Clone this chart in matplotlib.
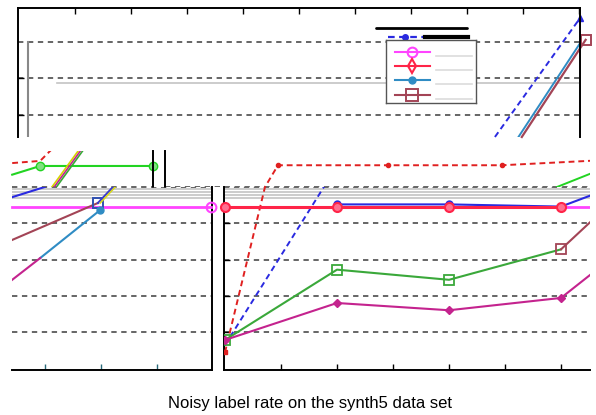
import matplotlib
matplotlib.use('Agg')
import matplotlib.pyplot as plt

W, H = 596, 415
fig = plt.figure(figsize=(W / 100, H / 100), dpi=100)

# ---------------- data (noise rate, accuracy) ----------------
grid_vals = [0.6, 0.65, 0.7, 0.75, 0.8, 0.85, 0.9, 0.95, 1.0]

# main (bottom-right) panel
noise = [0.0, 0.1, 0.2, 0.3]
acc_red = [0.772, 0.772, 0.772, 0.772]
acc_green = [0.589, 0.686, 0.672, 0.714]
acc_purple = [0.589, 0.640, 0.630, 0.647]
purple_ext_x = [0.3, 0.35]
purple_ext_y = [0.647, 0.708]
brown_ext_x = [0.3, 0.35]
brown_ext_y = [0.714, 0.786]
blue_x = [0.1, 0.2, 0.3, 0.35]
blue_y = [0.776, 0.776, 0.773, 0.802]
magenta_ext_x = [0.3, 0.35]
magenta_ext_y = [0.772, 0.772]
red_dash_x = [0.0, 0.0357, 0.0473, 0.1455, 0.2473, 0.35]
red_dash_y = [0.572, 0.800, 0.830, 0.830, 0.830, 0.838]
blue_dash_x = [0.0, 0.1]
blue_dash_y = [0.582, 0.829]
green_mid_x = [0.2964, 0.35]
green_mid_y = [0.800, 0.833]

# middle-left strip
gl_x = [-0.19, -0.165, -0.0643]
gl_y = [0.817, 0.829, 0.829]
rl_x = [-0.19, -0.165, -0.156, -0.145]
rl_y = [0.833, 0.836, 0.850, 0.865]
diag_x = [-0.1545, -0.131]
diag_y = [0.800, 0.850]

# bottom-left panel
mag_x = [-0.19, -0.1125, -0.0125]
mag_y = [0.772, 0.772, 0.772]
brn_x = [-0.19, -0.1134]
brn_y = [0.727, 0.778]
byl_x = [-0.1134, -0.100]
byl_y = [0.778, 0.800]
teal_x = [-0.165, -0.1116]
teal_y = [0.702, 0.768]
pink_x = [-0.19, -0.165]
pink_y = [0.672, 0.702]
bl_x = [-0.19, -0.161]
bl_y = [0.786, 0.800]
left_ticks = [-0.1607, -0.1107, -0.0607]
main_ticks = [0.05, 0.10, 0.15, 0.20, 0.25, 0.30]

# top panel
top_ticks = [-0.1339 + 0.05 * k for k in range(10)]
tb_x = [0.241, 0.317]
tb_y = [0.869, 1.033]
tc_x = [0.262, 0.319]
tc_y = [0.869, 1.003]
tr_x = [0.265, 0.322]
tr_y = [0.869, 1.003]

title = "Noisy label rate on the synth5 data set"

# colours
C_RED = '#ff2448'
C_GREEN = '#3aa83a'
C_LGREEN = '#22d422'
C_PURPLE = '#c4238e'
C_BROWN = '#a34456'
C_BLUE = '#2a2ae0'
C_TEAL = '#2f8cc4'
C_MAG = '#ff44ff'
C_RDASH = '#e02020'
GRID = '#3c3c3c'


def px2x(px):
    return (px - 225) / 1120


def py2v(py):
    return 0.6 + (332 - py) / 725


def frag(l, t, r, b, spines=()):
    ax = fig.add_axes([l / W, 1 - b / H, (r - l) / W, (b - t) / H])
    ax.set_xlim(px2x(l), px2x(r))
    ax.set_ylim(py2v(b), py2v(t))
    ax.patch.set_alpha(0)
    for s in ax.spines:
        ax.spines[s].set_visible(s in spines)
        ax.spines[s].set_linewidth(1.4)
    ax.set_xticks([])
    ax.set_yticks([])
    return ax


def dgrid(ax, vals):
    lo, hi = ax.get_ylim()
    for v in vals:
        if lo - 1e-6 <= v <= hi + 1e-6:
            ax.axhline(v, color=GRID, lw=1.1, ls=(0, (3.5, 3)), zorder=1)


def streaks(ax, ys, x0=None, x1=None):
    lo, hi = ax.get_xlim()
    for y in ys:
        ax.plot([lo if x0 is None else x0, hi if x1 is None else x1], [y, y],
                color='#c4c4c4', lw=1.2, zorder=0.5)


# ---------------- top panel ----------------
axA = frag(18, 8, 580, 137, spines=('top', 'right', 'left'))
dgrid(axA, grid_vals)
axA.set_xticks(top_ticks)
axA.set_yticks([0.9, 0.95])
axA.tick_params(axis='x', top=True, bottom=False, direction='in', length=4,
                labeltop=False, labelbottom=False, width=1)
axA.tick_params(axis='y', direction='in', length=4, labelleft=False, width=1)
streaks(axA, [py2v(83)], px2x(57), px2x(580))
axA.axvline(px2x(28), ymin=0, ymax=(137 - 42) / 129, color='#888888', lw=1.5)
axA.plot(tb_x, tb_y, color=C_BLUE, lw=1.4, ls=(0, (3, 2)), marker='^',
         markevery=[1], ms=5, clip_on=False)
axA.plot(tc_x, tc_y, color=C_TEAL, lw=1.4)
axA.plot(tr_x, tr_y, color=C_BROWN, lw=1.6, marker='s', markevery=[1],
         ms=7, mfc='none', mew=1.4, clip_on=False)

# legend-like decorations
axA.plot([px2x(376), px2x(467)], [py2v(28), py2v(28)], color='black', lw=2,
         solid_capstyle='round')
axA.plot([px2x(388), px2x(425)], [py2v(37), py2v(37)], color=C_BLUE, lw=1.6,
         ls=(0, (3, 2)))
axA.plot([px2x(405)], [py2v(37)], color=C_BLUE, marker='o', ms=4)
axA.plot([px2x(425), px2x(468)], [py2v(37), py2v(37)], color='black', lw=3)

axL = fig.add_axes([386 / W, 1 - 103 / H, 90 / W, 63 / H])
axL.set_xlim(0, 1)
axL.set_ylim(0, 1)
axL.set_xticks([])
axL.set_yticks([])
for s in axL.spines.values():
    s.set_color('#555555')
    s.set_linewidth(1)
leg_y = [0.81, 0.587, 0.365, 0.127]
leg_style = [
    dict(color=C_MAG, marker='o', mfc='none', ms=7, mew=1.5),
    dict(color=C_RED, marker='d', mfc='none', ms=7, mew=1.5),
    dict(color=C_TEAL, marker='o', ms=5),
    dict(color=C_BROWN, marker='s', mfc='none', ms=8, mew=1.4),
]
for yy, st in zip(leg_y, leg_style):
    axL.plot([0.1, 0.49], [yy, yy], lw=1.5, markevery=[], **st)
    axL.plot([0.29], [yy], lw=0, **st)
    axL.plot([0.55, 0.95], [yy - 0.06, yy - 0.06], color='#dcdcdc', lw=1.2)

# ---------------- middle strips ----------------
axB1 = frag(12, 151, 153, 187, spines=('right',))
dgrid(axB1, grid_vals)
axB1.plot(gl_x, gl_y, color=C_LGREEN, lw=1.5, marker='o', markevery=[1, 2],
          ms=6, mfc='#80e080', clip_on=False)
axB1.plot(rl_x, rl_y, color=C_RDASH, lw=1.4, ls=(0, (3, 2)))
axB1.plot(diag_x, diag_y, color='#d4d400', lw=1.2)
axB1.plot([x + 0.002 for x in diag_x], diag_y, color=C_PURPLE, lw=1.2)
axB1.plot([x + 0.004 for x in diag_x], diag_y, color=C_GREEN, lw=1.2)

axB2 = frag(165, 151, 590, 187, spines=('left',))
dgrid(axB2, grid_vals)
axB2.plot(red_dash_x, red_dash_y, color=C_RDASH, lw=1.4, ls=(0, (3, 2)),
          marker='o', ms=3, markevery=[2, 3, 4])
axB2.plot(green_mid_x, green_mid_y, color=C_LGREEN, lw=1.4)

# ---------------- bottom-left panel ----------------
axC = frag(12, 187, 212, 370, spines=('right', 'bottom'))
dgrid(axC, grid_vals)
streaks(axC, [py2v(189), py2v(192), py2v(195), py2v(198)])
axC.set_xticks(left_ticks)
axC.tick_params(axis='x', direction='in', length=4, labelbottom=False,
                width=1, color='#2a6a7a')
axC.plot(mag_x, mag_y, color=C_MAG, lw=2, marker='o', markevery=[2], ms=7,
         mfc='none', mew=1.5, clip_on=False, zorder=3)
axC.plot(brn_x, brn_y, color=C_BROWN, lw=1.5, marker='s', markevery=[1],
         ms=7, mfc='none', mec='#3050b0', mew=1.4, zorder=3)
axC.plot(byl_x, byl_y, color='#3a3ad0', lw=1.5, zorder=3)
axC.plot([x + 0.002 for x in byl_x], byl_y, color='#d8d820', lw=1.2, zorder=3)
axC.plot(teal_x, teal_y, color=C_TEAL, lw=1.5, marker='o', markevery=[1],
         ms=5, zorder=3)
axC.plot(pink_x, pink_y, color=C_PURPLE, lw=1.5, zorder=3)
axC.plot(bl_x, bl_y, color=C_BLUE, lw=1.5, zorder=3)
axC.axvline(px2x(215), ymin=0, ymax=(370 - 255) / 183, color='#222222',
            lw=1.4)

# ---------------- bottom-right (main) panel ----------------
axD = frag(224, 187, 590, 370, spines=('left', 'bottom'))
dgrid(axD, grid_vals)
streaks(axD, [py2v(189), py2v(192), py2v(195), py2v(198)])
axD.set_xticks(main_ticks)
axD.set_yticks([0.6, 0.65, 0.7, 0.75])
axD.tick_params(axis='both', direction='in', length=4, labelbottom=False,
                labelleft=False, width=1)
axD.plot(red_dash_x, red_dash_y, color=C_RDASH, lw=1.4, ls=(0, (3, 2)),
         marker='s', ms=3, markevery=[0], zorder=3)
axD.plot(blue_dash_x, blue_dash_y, color=C_BLUE, lw=1.4, ls=(0, (3, 2)),
         zorder=3)
axD.plot(blue_x, blue_y, color=C_BLUE, lw=1.5, marker='o', ms=5, zorder=3)
axD.plot(noise, acc_red, color=C_RED, lw=2.2, marker='o', ms=6.5,
         mfc='#ff7090', mew=1.5, zorder=4, clip_on=False)
axD.plot(magenta_ext_x, magenta_ext_y, color=C_MAG, lw=2, zorder=3.5)
axD.plot(noise, acc_green, color=C_GREEN, lw=1.5, marker='s', ms=7,
         mfc='none', mew=1.3, markevery=[0, 1, 2], zorder=3)
axD.plot(brown_ext_x, brown_ext_y, color=C_BROWN, lw=1.5, marker='s', ms=7,
         mfc='none', mew=1.3, markevery=[0], zorder=3)
axD.plot(noise, acc_purple, color=C_PURPLE, lw=1.5, marker='D', ms=4,
         zorder=3)
axD.plot(purple_ext_x, purple_ext_y, color=C_PURPLE, lw=1.5, zorder=3)

fig.text(310 / W, 1 - 403 / H, title, ha='center', va='center', fontsize=12,
         family='Liberation Sans')

fig.savefig('out.png', dpi=100)
